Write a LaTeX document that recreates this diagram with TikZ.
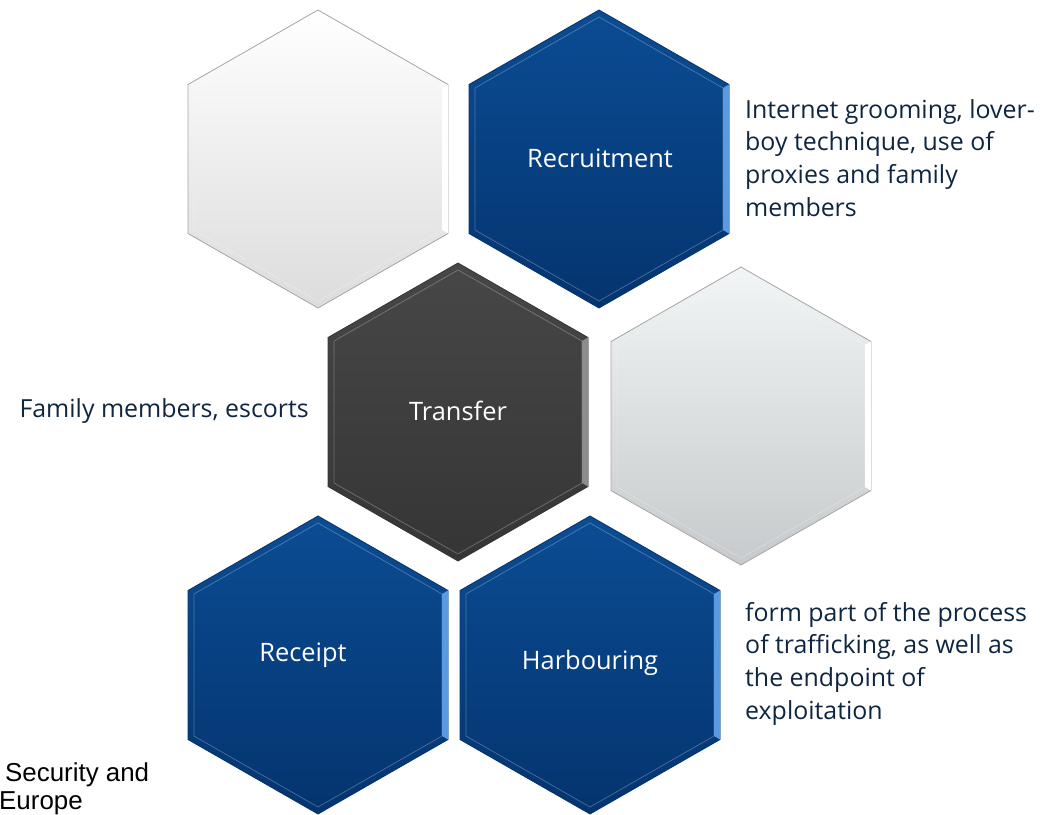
\documentclass[tikz,border=0pt]{standalone}
\usepackage{fontspec}
\setmainfont{Open Sans}
\newfontfamily\arialfont{Liberation Sans}
\usetikzlibrary{calc}
\definecolor{navytext}{HTML}{0F2641}
\definecolor{bluetop}{HTML}{0B4C93}
\definecolor{bluebot}{HTML}{04346F}
\definecolor{blueedge}{HTML}{5A9AE0}
\definecolor{graytop}{HTML}{474747}
\definecolor{graybot}{HTML}{353535}
\definecolor{wtop}{HTML}{FFFFFF}
\definecolor{wbot}{HTML}{DCDCDC}
\definecolor{ltop}{HTML}{F1F5F5}
\definecolor{lbot}{HTML}{C6CACC}
\newcommand\hexshape[1]{([shift={(#1)}]0,-149) -- ([shift={(#1)}]130,-74.5) -- ([shift={(#1)}]130,74.5) -- ([shift={(#1)}]0,149) -- ([shift={(#1)}]-130,74.5) -- ([shift={(#1)}]-130,-74.5) -- cycle}
\newcommand\hexinner[1]{([shift={(#1)}]0,-142) -- ([shift={(#1)}]124,-71) -- ([shift={(#1)}]124,71) -- ([shift={(#1)}]0,142) -- ([shift={(#1)}]-124,71) -- ([shift={(#1)}]-124,-71) -- cycle}
\newcommand\rightfacet[2]{\fill[#2] ([shift={(#1)}]130,-74.5) -- ([shift={(#1)}]130,74.5) -- ([shift={(#1)}]124,71) -- ([shift={(#1)}]124,-71) -- cycle;}
\newcommand\hexdraw[4]{%
  \fill[black,opacity=0.18] ([shift={(2,4)}]#1) ++(0,0) \hexshape{#1};
  \shade[top color=#2,bottom color=#3,draw=#4,line width=0.8bp] \hexshape{#1};
  \draw[white,opacity=0.25,line width=0.8bp] \hexinner{#1};}
\tikzset{
  hexlabel/.style={text=white,font=\fontsize{25.5}{28}\selectfont,inner sep=0pt},
  desc/.style={text=navytext,font=\fontsize{25}{32.8}\selectfont,align=left,inner sep=0pt},
  src/.style={text=black,font=\arialfont\fontsize{26}{28}\selectfont,align=left,inner sep=0pt}
}
\begin{document}
\begin{tikzpicture}[x=1bp,y=-1bp]
\useasboundingbox (0,0) rectangle (1045,815);
\coordinate (cA) at (318,159);
\coordinate (cB) at (599,159);
\coordinate (cC) at (458,412);
\coordinate (cD) at (741,416);
\coordinate (cE) at (318,665);
\coordinate (cF) at (590,665);
% hexagons
\hexdraw{cA}{wtop}{wbot}{black!35}
\rightfacet{cA}{white}
\hexdraw{cB}{bluetop}{bluebot}{bluebot}
\rightfacet{cB}{blueedge}
\hexdraw{cC}{graytop}{graybot}{graybot}
\rightfacet{cC}{gray!90}
\hexdraw{cD}{ltop}{lbot}{black!35}
\rightfacet{cD}{white}
\hexdraw{cE}{bluetop}{bluebot}{bluebot}
\rightfacet{cE}{blueedge}
\hexdraw{cF}{bluetop}{bluebot}{bluebot}
\rightfacet{cF}{blueedge}
% labels
\node[hexlabel] (rec) at (600,158) {Recruitment};
\node[hexlabel] (tra) at (458,411) {Transfer};
\node[hexlabel] (rcp) at (303,655) {Receipt};
\node[hexlabel] (hab) at (590,663) {Harbouring};
% descriptions
\node[desc,anchor=north west] (d1) at (745,99) {Internet grooming, lover-\\boy technique, use of\\proxies and family\\members};
\node[desc,anchor=east] (d2) at (309,411) {Family members, escorts};
\node[desc,anchor=north west] (d3) at (745,602) {form part of the process\\of trafficking, as well as\\the endpoint of\\exploitation};
\node[src,anchor=north west] (s1) at (-1,763) {\hspace*{6bp}Security and\\Europe};
\end{tikzpicture}
\end{document}
